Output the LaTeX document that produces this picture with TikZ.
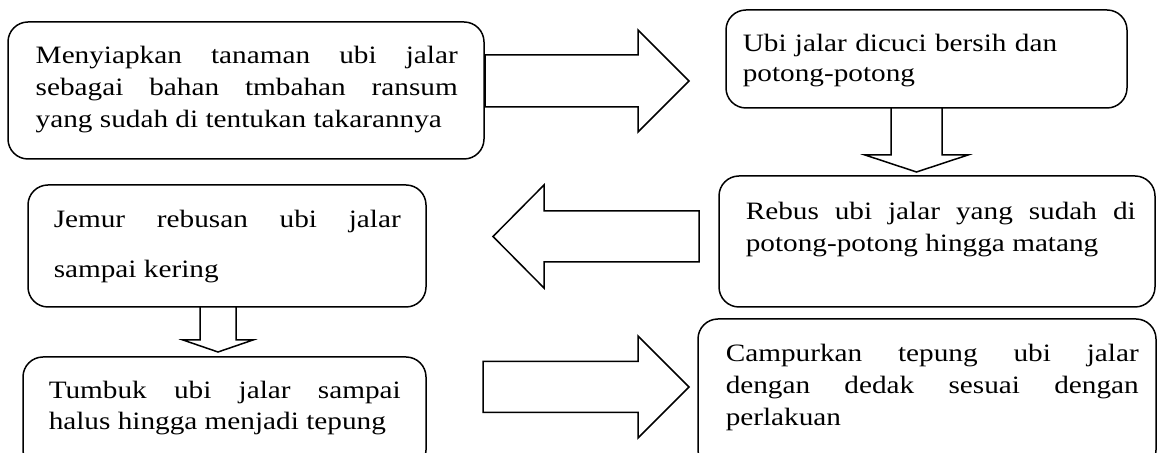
\documentclass[tikz,border=0pt]{standalone}
\usepackage{fontspec}
\setmainfont{Liberation Serif}[FakeStretch=1.17]
\usepackage{tikz}
\hyphenpenalty=10000
\exhyphenpenalty=10000
\def\blockarrowh(#1:#2:#3)(#4:#5:#6){\draw[blockarrow] (#1,#4-#5) -- (#2,#4-#5) -- (#2,#4-#6) -- (#3,#4) -- (#2,#4+#6) -- (#2,#4+#5) -- (#1,#4+#5) -- cycle;}
\def\blockarrowv(#1:#2:#3)(#4:#5:#6){\draw[blockarrow] (#4-#5,#1) -- (#4-#5,#2) -- (#4-#6,#2) -- (#4,#3) -- (#4+#6,#2) -- (#4+#5,#2) -- (#4+#5,#1) -- cycle;}

\begin{document}
\begin{tikzpicture}[x=0.5pt, y=-0.5pt, line width=0.75pt,
	stagebox/.style={rounded corners=10pt},
	stagetext/.style={anchor=base west, inner sep=0pt, align=justify, font={\fontsize{12.5}{16}\selectfont}},
	blockarrow/.style={line join=miter, fill=white}]
		\useasboundingbox (0,0) rectangle (1157,453);
		
		%%%%% BOXES %%%%%
		\draw[stagebox] (8,22) rectangle (484,159);
		\draw[stagebox] (726,10) rectangle (1127,108);
		\draw[stagebox] (719,176) rectangle (1155,307);
		\draw[stagebox] (28,185) rectangle (426,307);
		\draw[stagebox] (23,357) rectangle (426,470);
		\draw[stagebox] (698,319) rectangle (1156,470);
		
		%%%%% TEXTS %%%%%
		\node[stagetext, text width=211pt] (prepare) at (35,64) {Menyiapkan tanaman ubi jalar\linebreak sebagai bahan tmbahan ransum\linebreak yang sudah di tentukan takarannya};
		\node[stagetext, text width=185pt, align=left, font={\fontsize{12.5}{15}\selectfont}] (wash) at (742,52) {Ubi jalar dicuci bersih dan\\ potong-potong};
		\node[stagetext, text width=195pt] (boil) at (745,220) {Rebus ubi jalar yang sudah di\linebreak potong-potong hingga matang};
		\node[stagetext, text width=173.5pt, font={\fontsize{12.5}{25}\selectfont}] (dry) at (53,228) {Jemur rebusan ubi jalar\linebreak sampai kering};
		\node[stagetext, text width=176pt, font={\fontsize{12.5}{15.5}\selectfont}] (pound) at (48,399) {Tumbuk ubi jalar sampai\linebreak halus hingga menjadi tepung};
		\node[stagetext, text width=206.5pt] (mix) at (725,362) {Campurkan tepung ubi jalar\linebreak dengan dedak sesuai dengan\linebreak perlakuan};
		
		%%%%% ARROWS %%%%%
		\blockarrowh(485:638:689)(81:26:51)
		\blockarrowv(108:155:172)(916.5:25.5:51.5)
		\blockarrowh(699:544:493)(236.5:25.5:51.5)
		\blockarrowv(307:340:352)(218:18:35)
		\blockarrowh(483:638:689)(387:25.5:51)
		
		%%%%% END %%%%%
	\end{tikzpicture}
\end{document}
